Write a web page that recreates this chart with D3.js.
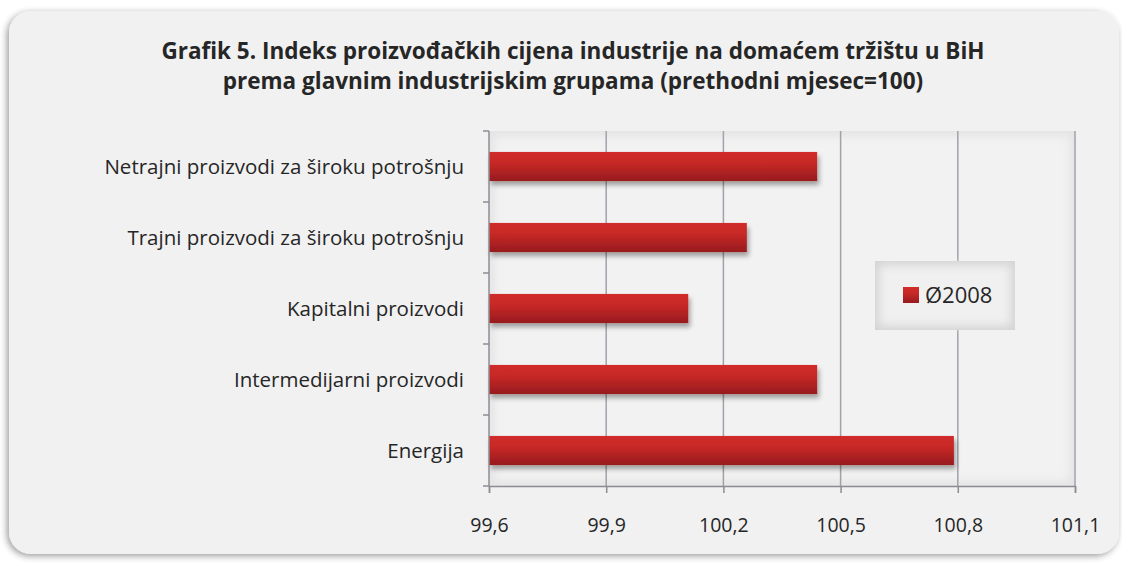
<!DOCTYPE html>
<html>
<head>
<meta charset="utf-8">
<script src="https://cdn.jsdelivr.net/npm/d3@7"></script>
<style>
  html, body { margin: 0; padding: 0; background: #fff; }
  svg { display: block; }
</style>
</head>
<body>
<div id="chart"></div>
<script>
const titleLines = [
  "Grafik 5. Indeks proizvođačkih cijena industrije na domaćem tržištu u BiH",
  "prema glavnim industrijskim grupama (prethodni mjesec=100)"
];
const categories = [
  "Netrajni proizvodi za široku potrošnju",
  "Trajni proizvodi za široku potrošnju",
  "Kapitalni proizvodi",
  "Intermedijarni proizvodi",
  "Energija"
];
const values = [100.44, 100.26, 100.11, 100.44, 100.79];
const seriesName = "Ø2008";
const xTicks = [99.6, 99.9, 100.2, 100.5, 100.8, 101.1];

const width = 1122, height = 563;
const margin = { top: 131, right: 47, bottom: 77, left: 489 };
const font = "'Open Sans', Lato, sans-serif";

const svg = d3.select("#chart").append("svg")
  .attr("width", width)
  .attr("height", height)
  .style("font-family", font);

const defs = svg.append("defs");

const shadow = defs.append("filter").attr("id", "boxShadow")
  .attr("x", "-5%").attr("y", "-5%").attr("width", "110%").attr("height", "110%");
shadow.append("feGaussianBlur").attr("in", "SourceAlpha").attr("stdDeviation", 3.5);
shadow.append("feOffset").attr("dx", -2).attr("dy", 2).attr("result", "off");
shadow.append("feComponentTransfer").append("feFuncA").attr("type", "linear").attr("slope", 0.4);
const sm = shadow.append("feMerge");
sm.append("feMergeNode");
sm.append("feMergeNode").attr("in", "SourceGraphic");

const barShadow = defs.append("filter").attr("id", "barShadow")
  .attr("x", "-5%").attr("y", "-30%").attr("width", "110%").attr("height", "170%");
barShadow.append("feGaussianBlur").attr("in", "SourceAlpha").attr("stdDeviation", 2.5);
barShadow.append("feOffset").attr("dx", 2).attr("dy", 4);
barShadow.append("feComponentTransfer").append("feFuncA").attr("type", "linear").attr("slope", 0.35);
const bm = barShadow.append("feMerge");
bm.append("feMergeNode");
bm.append("feMergeNode").attr("in", "SourceGraphic");

const barGrad = defs.append("linearGradient").attr("id", "barGrad")
  .attr("x1", 0).attr("y1", 0).attr("x2", 0).attr("y2", 1);
barGrad.append("stop").attr("offset", "0%").attr("stop-color", "#d12d2a");
barGrad.append("stop").attr("offset", "40%").attr("stop-color", "#c62826");
barGrad.append("stop").attr("offset", "100%").attr("stop-color", "#961a1e");

const glow = defs.append("filter").attr("id", "innerGlow");
glow.append("feGaussianBlur").attr("stdDeviation", 5);

// outer panel
svg.append("rect")
  .attr("x", 9).attr("y", 11)
  .attr("width", 1110).attr("height", 543)
  .attr("rx", 22)
  .attr("fill", "#f1f1f1")
  .attr("filter", "url(#boxShadow)");

// title
svg.append("g").selectAll("text")
  .data(titleLines)
  .join("text")
  .attr("x", 573)
  .attr("y", (d, i) => 59 + i * 30)
  .attr("text-anchor", "middle")
  .style("font-size", "22.5px")
  .style("font-weight", "bold")
  .style("fill", "#262626")
  .text(d => d);

const x = d3.scaleLinear()
  .domain([99.6, 101.1])
  .range([margin.left, width - margin.right]);

const y = d3.scaleBand()
  .domain(categories)
  .range([margin.top, height - margin.bottom])
  .paddingInner(0.59)
  .paddingOuter(0.295);

const yOuter = d3.scaleBand()
  .domain(categories)
  .range([margin.top, height - margin.bottom]);

// plot area with soft inner edge
const plot = svg.append("g");
plot.append("rect")
  .attr("x", x(99.6)).attr("y", margin.top)
  .attr("width", x(101.1) - x(99.6))
  .attr("height", height - margin.bottom - margin.top)
  .attr("fill", "#e4e4e4");
plot.append("rect")
  .attr("x", x(99.6) + 5).attr("y", margin.top + 5)
  .attr("width", x(101.1) - x(99.6) - 10)
  .attr("height", height - margin.bottom - margin.top - 10)
  .attr("fill", "#f2f2f2")
  .attr("filter", "url(#innerGlow)");

// gridlines
svg.append("g")
  .selectAll("line")
  .data(xTicks.slice(1))
  .join("line")
  .attr("x1", d => x(d)).attr("x2", d => x(d))
  .attr("y1", margin.top).attr("y2", height - margin.bottom)
  .attr("stroke", "#a2a2aa")
  .attr("stroke-width", 1.5);

// bars
svg.append("g")
  .selectAll("rect")
  .data(categories)
  .join("rect")
  .attr("x", x(99.6))
  .attr("y", d => y(d))
  .attr("width", (d, i) => x(values[i]) - x(99.6))
  .attr("height", y.bandwidth())
  .attr("fill", "url(#barGrad)")
  .attr("filter", "url(#barShadow)");

// y axis
const yAxis = svg.append("g")
  .attr("transform", `translate(${x(99.6)},0)`);
yAxis.append("line")
  .attr("y1", margin.top).attr("y2", height - margin.bottom)
  .attr("stroke", "#8c8c94").attr("stroke-width", 1.5);
yAxis.selectAll("line.tick")
  .data(categories.concat(["end"]))
  .join("line")
  .attr("class", "tick")
  .attr("x1", -6).attr("x2", 0)
  .attr("y1", (d, i) => i < categories.length ? yOuter(d) : height - margin.bottom)
  .attr("y2", (d, i) => i < categories.length ? yOuter(d) : height - margin.bottom)
  .attr("stroke", "#8c8c94").attr("stroke-width", 1.5);
yAxis.selectAll("text")
  .data(categories)
  .join("text")
  .attr("x", -25)
  .attr("y", d => yOuter(d) + yOuter.bandwidth() / 2)
  .attr("dy", "0.35em")
  .attr("text-anchor", "end")
  .style("font-size", "20.5px")
  .style("fill", "#262626")
  .text(d => d);

// x axis
const xAxis = svg.append("g")
  .attr("transform", `translate(0,${height - margin.bottom})`)
  .call(d3.axisBottom(x).tickValues(xTicks).tickSize(7).tickPadding(25)
    .tickFormat(d => d3.format(".1f")(d).replace(".", ",")));
xAxis.select(".domain").attr("stroke", "#8c8c94").attr("stroke-width", 1.5);
xAxis.selectAll(".tick line").attr("stroke", "#8c8c94").attr("stroke-width", 1.5);
xAxis.selectAll(".tick text")
  .style("font-size", "19.5px")
  .style("font-family", font)
  .style("fill", "#262626");

// legend
const legend = svg.append("g").attr("transform", "translate(875,261)");
legend.append("rect")
  .attr("width", 140).attr("height", 69)
  .attr("fill", "#d4d4d4");
legend.append("rect")
  .attr("x", 4).attr("y", 4)
  .attr("width", 132).attr("height", 61)
  .attr("fill", "#f0f0f0")
  .attr("filter", "url(#innerGlow)");
legend.append("rect")
  .attr("x", 28).attr("y", 26)
  .attr("width", 16).attr("height", 16)
  .attr("fill", "url(#barGrad)");
legend.append("text")
  .attr("x", 50).attr("y", 34)
  .attr("dy", "0.35em")
  .style("font-size", "22px")
  .style("fill", "#262626")
  .text(seriesName);
</script>
</body>
</html>
